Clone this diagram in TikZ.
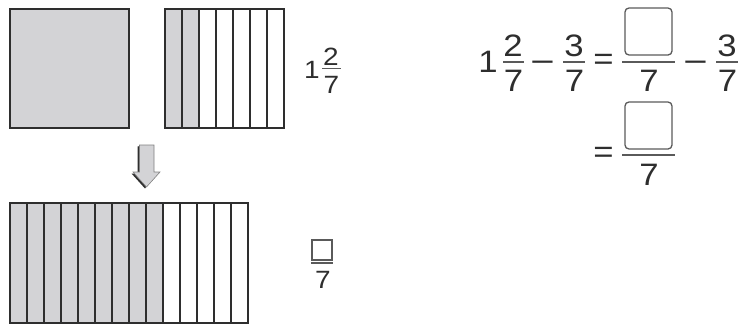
\documentclass[tikz,border=0pt]{standalone}
\usepackage{fontspec}
\setmainfont{Liberation Sans}[FakeStretch=1.12]
\definecolor{cellgray}{HTML}{D3D3D6}
\definecolor{ink}{HTML}{2E2E2E}
\definecolor{boxgray}{HTML}{5A5A5A}
\newcommand{\wideminus}{\scalebox{1.2}[1]{−}}
\begin{document}
\begin{tikzpicture}[x=1pt,y=-1pt,
  big/.style={font=\fontsize{31}{33}\selectfont, text=ink, inner sep=0pt, anchor=base},
  bigc/.style={font=\fontsize{31}{33}\selectfont, text=ink, inner sep=0pt, anchor=center},
  small/.style={font=\fontsize{25}{27}\selectfont, text=ink, inner sep=0pt, anchor=base},
  outl/.style={draw=ink, line width=1.4pt},
  strip/.style={draw=ink, line width=1.1pt},
  fbar/.style={draw=boxgray, line width=1.2pt},
  ansbox/.style={draw=boxgray, line width=1.3pt, rounded corners=4pt}]
\useasboundingbox (0,0) rectangle (740,325);

% whole square
\fill[cellgray] (10,9) rectangle (129,128);
\node[outl, minimum width=119pt, minimum height=119pt, inner sep=0pt] (whole) at (69.5,68.5) {};

% sevenths square
\fill[cellgray] (165,9) rectangle (199,128);
\foreach \i in {1,...,6} \draw[strip] ({165+17*\i},9) -- ({165+17*\i},128);
\node[outl, minimum width=119pt, minimum height=119pt, inner sep=0pt] (sev) at (224.5,68.5) {};

% label 1 2/7
\node[small] (l1) at (312,78) {1};
\node[small] (l2) at (331,65) {2};
\draw[fbar] (322,68.5) -- (341,68.5);
\node[small] (l7) at (331.5,93) {7};

% arrow
\fill[ink] (137.5,146.5) -- (137.5,173.5) -- (131.5,173.5) -- (145,188.5) -- (146,187) -- (140,173) -- (140,146) -- cycle;
\draw[fill=cellgray, draw=gray, line width=0.6pt] (139.5,145) -- (154,145) -- (154,172) -- (160,172) -- (146.5,187) -- (133,172) -- (139.5,172) -- cycle;

% long strip rectangle
\fill[cellgray] (10,203) rectangle (163,323);
\foreach \i in {1,...,13} \draw[strip] ({10+17*\i},203) -- ({10+17*\i},323);
\node[outl, minimum width=238pt, minimum height=120pt, inner sep=0pt] (long) at (129,263) {};

% label box/7
\node[draw=boxgray, line width=1.1pt, minimum size=20pt, inner sep=0pt] (sbox) at (322,250) {};
\draw[fbar] (311,263) -- (333,263);
\node[small] (s7) at (323,288) {7};

% equation line 1
\node[big] (e1) at (488,72) {1};
\node[big] (n2) at (513,56) {2};
\draw[fbar] (503,62) -- (524,62);
\node[big] (d7a) at (513.5,91) {7};
\node[big] (m1) at (542.5,72) {\wideminus};
\node[big] (n3) at (574,56) {3};
\draw[fbar] (563,62) -- (585,62);
\node[big] (d7b) at (574.5,91) {7};
\node[bigc] (eq1) at (603.5,62) {=};
\node[ansbox, minimum size=47pt, inner sep=0pt] (b1) at (648.5,31.5) {};
\draw[fbar] (622,62) -- (675,62);
\node[big] (d7c) at (649,91) {7};
\node[big] (m2) at (695.5,72) {\wideminus};
\node[big] (n3b) at (727,56) {3};
\draw[fbar] (716,62) -- (738,62);
\node[big] (d7d) at (727.5,91) {7};

% equation line 2
\node[bigc] (eq2) at (603.5,155) {=};
\node[ansbox, minimum size=47pt, inner sep=0pt] (b2) at (648.5,125.5) {};
\draw[fbar] (622,155) -- (675,155);
\node[big] (d7e) at (649,185) {7};
\end{tikzpicture}
\end{document}
